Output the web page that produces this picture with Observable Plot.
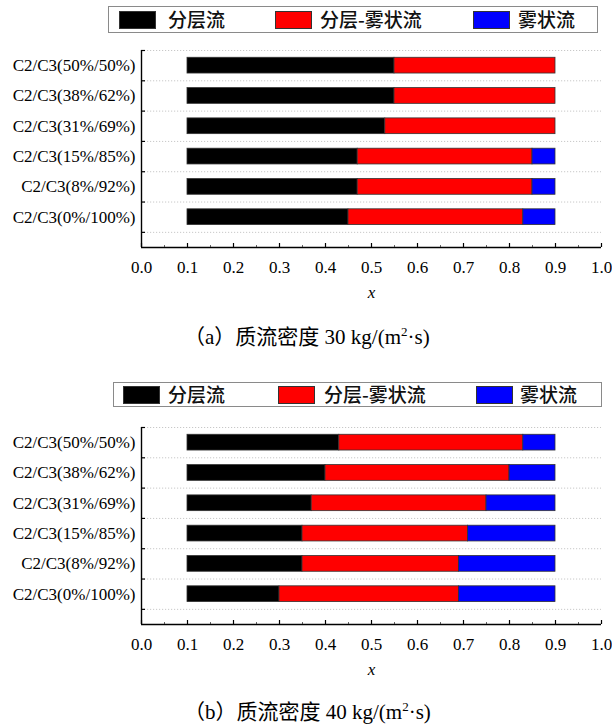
<!DOCTYPE html>
<html>
<head>
<meta charset="utf-8">
<script src="https://cdn.jsdelivr.net/npm/d3@7"></script>
<script src="https://cdn.jsdelivr.net/npm/@observablehq/plot@0.6"></script>
<style>
  body { margin: 0; background: #fff; width: 612px; height: 727px; position: relative; overflow: hidden; }
  .legend { position: absolute; border: 1px solid #8a8a8a; box-sizing: border-box; background: #fff; }
  .sw { position: absolute; width: 37px; height: 18px; box-sizing: border-box; border: 1px solid #333; }
  .lt { position: absolute; font-family: "Noto Sans CJK SC", sans-serif; font-size: 19px; font-weight: 500; line-height: 19px; color: #111; white-space: nowrap; }
  .caption { position: absolute; font-family: "Liberation Serif", "Noto Sans CJK SC", serif; font-size: 21px; line-height: 22px; height: 22px; white-space: nowrap; color: #000; }
  .caption sup { font-size: 13px; vertical-align: 8px; line-height: 0; }
  .chart { position: absolute; left: 0; }
</style>
</head>
<body>
<script>
// ---- data ----
const categories = ["C2/C3(50%/50%)", "C2/C3(38%/62%)", "C2/C3(31%/69%)", "C2/C3(15%/85%)", "C2/C3(8%/92%)", "C2/C3(0%/100%)"];
const regimes = ["分层流", "分层-雾状流", "雾状流"];
const regimeColors = ["#000000", "#ff0000", "#0000ff"];
const rangeStart = 0.1;
const rangeEnd = 0.9;
// boundary between stratified and stratified-mist flow (a: 30 kg/(m2 s))
const stratEndA = [0.55, 0.55, 0.53, 0.47, 0.47, 0.45];
// boundary between stratified-mist and mist flow (a)
const mistStartA = [0.90, 0.90, 0.90, 0.85, 0.85, 0.83];
// (b: 40 kg/(m2 s))
const stratEndB = [0.43, 0.40, 0.37, 0.35, 0.35, 0.30];
const mistStartB = [0.83, 0.80, 0.75, 0.71, 0.69, 0.69];
const xTicks = [0.0, 0.1, 0.2, 0.3, 0.4, 0.5, 0.6, 0.7, 0.8, 0.9, 1.0];
const xMinorTicks = [0.05, 0.15, 0.25, 0.35, 0.45, 0.55, 0.65, 0.75, 0.85, 0.95];
const captions = [["（a）质流密度 30 kg/(m", "2", "·s)"], ["（b）质流密度 40 kg/(m", "2", "·s)"]];

const n = categories.length;
const positions = categories.map((c, i) => n - i);          // top category highest
const boundaries = d3.range(0.5, n + 1, 1);

function buildRows(stratEnd, mistStart) {
  const rows = [];
  categories.forEach((c, i) => {
    const segs = [[rangeStart, stratEnd[i]], [stratEnd[i], mistStart[i]], [mistStart[i], rangeEnd]];
    segs.forEach((s, k) => {
      if (s[1] > s[0]) rows.push({cat: c, pos: positions[i], regime: regimes[k], x1: s[0], x2: s[1]});
    });
  });
  return rows;
}

function makeChart(rows) {
  const svg = Plot.plot({
    width: 612,
    height: 266,
    marginLeft: 141,
    marginRight: 11,
    marginTop: 10,
    marginBottom: 59,
    style: {fontFamily: "'Liberation Serif', 'Times New Roman', serif", fontSize: "17px", color: "#000", background: "transparent", overflow: "visible"},
    x: {domain: [0, 1], label: "x"},
    y: {domain: [0, n + 0.5]},
    color: {domain: regimes, range: regimeColors},
    marks: [
      Plot.ruleY(boundaries, {x1: 0, x2: 1, stroke: "#c8c8c8", strokeDasharray: "1.2,1.8", strokeWidth: 1}),
      Plot.rect(rows, {x1: "x1", x2: "x2", y1: d => d.pos - 0.26, y2: d => d.pos + 0.26, fill: "regime", stroke: "#333", strokeWidth: 0.8}),
      Plot.ruleY(boundaries, {x1: 0, x2: 0, insetRight: -4, stroke: "#000", strokeWidth: 1.2}),
      Plot.ruleX(xTicks, {y1: 0, y2: 0, insetTop: -4, stroke: "#000", strokeWidth: 1.2}),
      Plot.ruleX(xMinorTicks, {y1: 0, y2: 0, insetTop: -2, stroke: "#666", strokeWidth: 1}),
      Plot.ruleX([0], {y1: 0, y2: n + 0.5, stroke: "#000", strokeWidth: 1.4}),
      Plot.ruleY([0], {x1: 0, x2: 1, stroke: "#000", strokeWidth: 1.4}),
      Plot.axisX({ticks: xTicks, tickSize: 0, tickPadding: 13, tickFormat: d3.format(".1f"), label: "x", labelAnchor: "center", labelArrow: "none", labelOffset: 50}),
      Plot.axisY({ticks: positions, tickSize: 0, tickPadding: 6, tickFormat: p => categories[n - p], label: null})
    ]
  });
  d3.select(svg).selectAll("[aria-label='x-axis label'] text").style("font-style", "italic");
  return svg;
}

function legend(top, left, width, height, swLefts, textLefts) {
  const div = document.createElement("div");
  div.className = "legend";
  Object.assign(div.style, {top: top + "px", left: left + "px", width: width + "px", height: height + "px"});
  regimes.forEach((r, k) => {
    const sw = document.createElement("div");
    sw.className = "sw";
    Object.assign(sw.style, {left: (swLefts[k] - left - 1) + "px", top: ((height - 2 - 18) / 2) + "px", background: regimeColors[k]});
    div.appendChild(sw);
    const t = document.createElement("div");
    t.className = "lt";
    t.textContent = r;
    Object.assign(t.style, {left: (textLefts[k] - left - 1) + "px", top: ((height - 2 - 19) / 2 - 1) + "px"});
    div.appendChild(t);
  });
  document.body.appendChild(div);
}

function caption(parts, top, left) {
  const c = document.createElement("div");
  c.className = "caption";
  c.style.top = top + "px";
  c.style.left = left + "px";
  c.appendChild(document.createTextNode(parts[0]));
  const s = document.createElement("sup"); s.textContent = parts[1]; c.appendChild(s);
  c.appendChild(document.createTextNode(parts[2]));
  document.body.appendChild(c);
}

// panel (a)
legend(6, 108, 490, 27, [119, 275, 473], [168, 320, 518]);
const chartA = makeChart(buildRows(stratEndA, mistStartA));
chartA.classList.add("chart");
chartA.style.top = "40px";
document.body.appendChild(chartA);
caption(captions[0], 326, 184);

// panel (b)
legend(382, 113, 489, 25, [123, 278, 476], [168, 324, 520]);
const chartB = makeChart(buildRows(stratEndB, mistStartB));
chartB.classList.add("chart");
chartB.style.top = "417px";
document.body.appendChild(chartB);
caption(captions[1], 701, 184);
</script>
</body>
</html>
